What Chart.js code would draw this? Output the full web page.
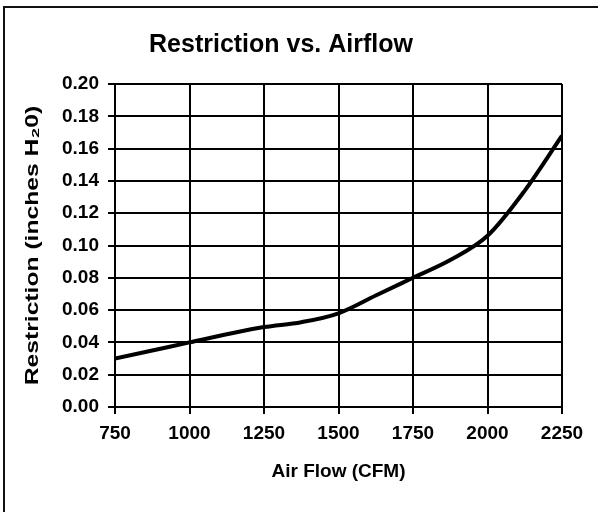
<!DOCTYPE html>
<html>
<head>
<meta charset="utf-8">
<script src="https://cdn.jsdelivr.net/npm/chart.js@4.4.1/dist/chart.umd.min.js"></script>
<style>
  html, body { margin: 0; padding: 0; background: #fff; overflow: hidden; }
  .wrap { position: relative; width: 598px; height: 512px; }
  .frame {
    position: absolute; left: 3px; top: 6px; width: 700px; height: 700px;
    border: 2px solid #111; pointer-events: none;
  }
</style>
</head>
<body>
<div class="wrap">
  <canvas id="restrictionChart" width="598" height="512"></canvas>
  <div class="frame"></div>
</div>
<script>
// 데이터
const airflow = [750, 875, 1000, 1125, 1250, 1375, 1500, 1625, 1750, 1875, 2000, 2125, 2250];
const restriction = [0.030, 0.035, 0.040, 0.045, 0.0495, 0.0525, 0.058, 0.069, 0.080, 0.091, 0.106, 0.134, 0.168];
const xTicks = [750, 1000, 1250, 1500, 1750, 2000, 2250];
const yTicks = [0, 0.02, 0.04, 0.06, 0.08, 0.1, 0.12, 0.14, 0.16, 0.18, 0.2];

const font = "'Liberation Sans', Arial, sans-serif";

// y축 제목을 세로로 늘려서 그림 (원본 글자가 길게 늘어나 있음)
const stretchYTitle = {
  id: "stretchYTitle",
  afterLayout(chart) {
    const y = chart.scales.y;
    if (y._stretched) return;
    const orig = y.drawTitle;
    y.drawTitle = function () {
      const c = this.ctx;
      const cy = (this.top + this.bottom) / 2;
      c.save();
      c.translate(0, cy);
      c.scale(1, 1.37);
      c.translate(0, -cy);
      orig.call(this);
      c.restore();
    };
    y._stretched = true;
  },
};

window.addEventListener("load", () => {
  const ctx = document.getElementById("restrictionChart");

  new Chart(ctx, {
    type: "line",
    data: {
      datasets: [
        {
          data: airflow.map((x, i) => ({ x: x, y: restriction[i] })),
          borderColor: "#000",
          borderWidth: 4,
          pointRadius: 0,
          cubicInterpolationMode: "monotone",
          fill: false,
        },
      ],
    },
    plugins: [stretchYTitle],
    options: {
      responsive: false,
      animation: false,
      layout: { padding: { left: 0, right: 36, top: 0, bottom: 0 } },
      plugins: {
        legend: { display: false },
        tooltip: { enabled: false },
        title: {
          display: true,
          text: "Restriction vs. Airflow",
          color: "#000",
          font: { family: font, size: 25, weight: "bold" },
          padding: { top: 30, bottom: 24 },
        },
      },
      scales: {
        x: {
          type: "linear",
          min: 750,
          max: 2250,
          afterBuildTicks: (scale) => {
            scale.ticks = xTicks.map((v) => ({ value: v }));
          },
          afterFit: (scale) => {
            scale.height = 105;
          },
          grid: { color: "#000", lineWidth: 2, tickLength: 7, tickColor: "#000" },
          border: { color: "#000", width: 2 },
          ticks: {
            color: "#000",
            padding: 8,
            maxRotation: 0,
            font: { family: font, size: 19, weight: "bold" },
            callback: (v) => String(v),
          },
          title: {
            display: true,
            text: "Air Flow (CFM)",
            color: "#000",
            font: { family: font, size: 19, weight: "bold" },
            padding: { top: 0, bottom: 29 },
          },
        },
        y: {
          min: 0,
          max: 0.2,
          afterBuildTicks: (scale) => {
            scale.ticks = yTicks.map((v) => ({ value: v }));
          },
          afterFit: (scale) => {
            scale.width = 115;
          },
          grid: { color: "#000", lineWidth: 2, tickLength: 7, tickColor: "#000" },
          border: { color: "#000", width: 2 },
          ticks: {
            color: "#000",
            padding: 9,
            font: { family: font, size: 19, weight: "bold" },
            callback: (v) => Number(v).toFixed(2),
          },
          title: {
            display: true,
            text: "Restriction (inches H₂0)",
            color: "#000",
            font: { family: font, size: 18, weight: "bold" },
            padding: { top: 22, bottom: 0 },
          },
        },
      },
    },
  });
});
</script>
</body>
</html>
